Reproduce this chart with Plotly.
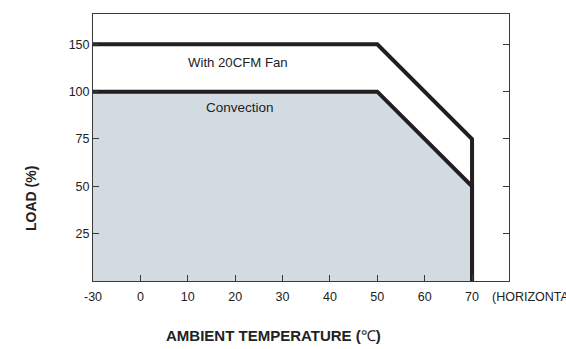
import plotly.graph_objects as go

# Data
temps = [-30, 50, 70]
fan_load = [150, 150, 75]
conv_load = [100, 100, 50]
x_ticks = [-30, 0, 10, 20, 30, 40, 50, 60, 70]
y_ticks = [25, 50, 75, 100, 150]

# The printed axes are compressed: -30 sits one decade left of 0, 150 sits one step above 100
def xpos(t):
    return -10 if t == -30 else t

def ypos(v):
    return 125 if v == 150 else v

LINE = "#231f20"
FILL = "#d3dbe2"
AX = "#3a3a3a"
TXT = "#222222"
FONT = "Liberation Sans, Arial, sans-serif"

W, H = 566, 349
L, R, T, B = 93, 57, 14, 68
pw, ph = W - L - R, H - T - B

def px(x):
    return (x - L) / pw

def py(y):
    return (H - y - B) / ph

fig = go.Figure()
# filled area under convection curve
fig.add_trace(go.Scatter(
    x=[xpos(t) for t in temps] + [xpos(temps[-1])],
    y=[ypos(v) for v in conv_load] + [0],
    mode="lines", fill="tozeroy", fillcolor=FILL,
    line=dict(width=0), hoverinfo="skip", showlegend=False))
# convection curve
fig.add_trace(go.Scatter(
    x=[xpos(t) for t in temps] + [xpos(temps[-1])],
    y=[ypos(v) for v in conv_load] + [0],
    mode="lines", line=dict(color=LINE, width=4), showlegend=False))
# fan curve
fig.add_trace(go.Scatter(
    x=[xpos(t) for t in temps] + [xpos(temps[-1])],
    y=[ypos(v) for v in fan_load] + [0],
    mode="lines", line=dict(color=LINE, width=4), showlegend=False))

fig.update_layout(
    width=W, height=H,
    margin=dict(l=L, r=R, t=T, b=B),
    paper_bgcolor="white", plot_bgcolor="white",
    font=dict(family=FONT, size=12, color=TXT),
    xaxis=dict(range=[-10, 77.8], tickvals=[xpos(t) for t in x_ticks],
               ticktext=[str(t) for t in x_ticks], ticks="inside", ticklen=6,
               tickcolor=AX, showline=True, linecolor=AX, linewidth=1,
               mirror=True, showgrid=False, zeroline=False,
               ticklabelstandoff=4, tickfont=dict(size=12.5)),
    yaxis=dict(range=[0, 141], tickvals=[ypos(v) for v in y_ticks],
               ticktext=[str(v) for v in y_ticks], ticks="inside", ticklen=6,
               tickcolor=AX, showline=True, linecolor=AX, linewidth=1,
               mirror="ticks", showgrid=False, zeroline=False,
               tickfont=dict(size=12.5)),
    annotations=[
        dict(x=px(238), y=py(62), xref="paper", yref="paper", text="With 20CFM Fan",
             xanchor="center", yanchor="middle",
             showarrow=False, font=dict(size=13.2, color=TXT)),
        dict(x=px(240), y=py(108), xref="paper", yref="paper", text="Convection",
             xanchor="center", yanchor="middle",
             showarrow=False, font=dict(size=13.5, color=TXT)),
        dict(x=px(490), y=py(297), xref="paper", yref="paper", text="(HORIZONTAL)",
             showarrow=False, xanchor="left", yanchor="middle",
             font=dict(size=12.5, color=TXT)),
        dict(x=px(273), y=py(335), xref="paper", yref="paper",
             text="<b>AMBIENT TEMPERATURE (</b>℃<b>)</b>",
             showarrow=False, xanchor="center", yanchor="middle",
             font=dict(size=15, color=TXT)),
        dict(x=px(31), y=py(199), xref="paper", yref="paper",
             text="<b>LOAD (%)</b>", textangle=-90,
             showarrow=False, xanchor="center", yanchor="middle",
             font=dict(size=14, color=TXT)),
    ],
)

fig.write_html("out.html", config={"displayModeBar": False},
               post_script="document.body.style.margin='0px';")
